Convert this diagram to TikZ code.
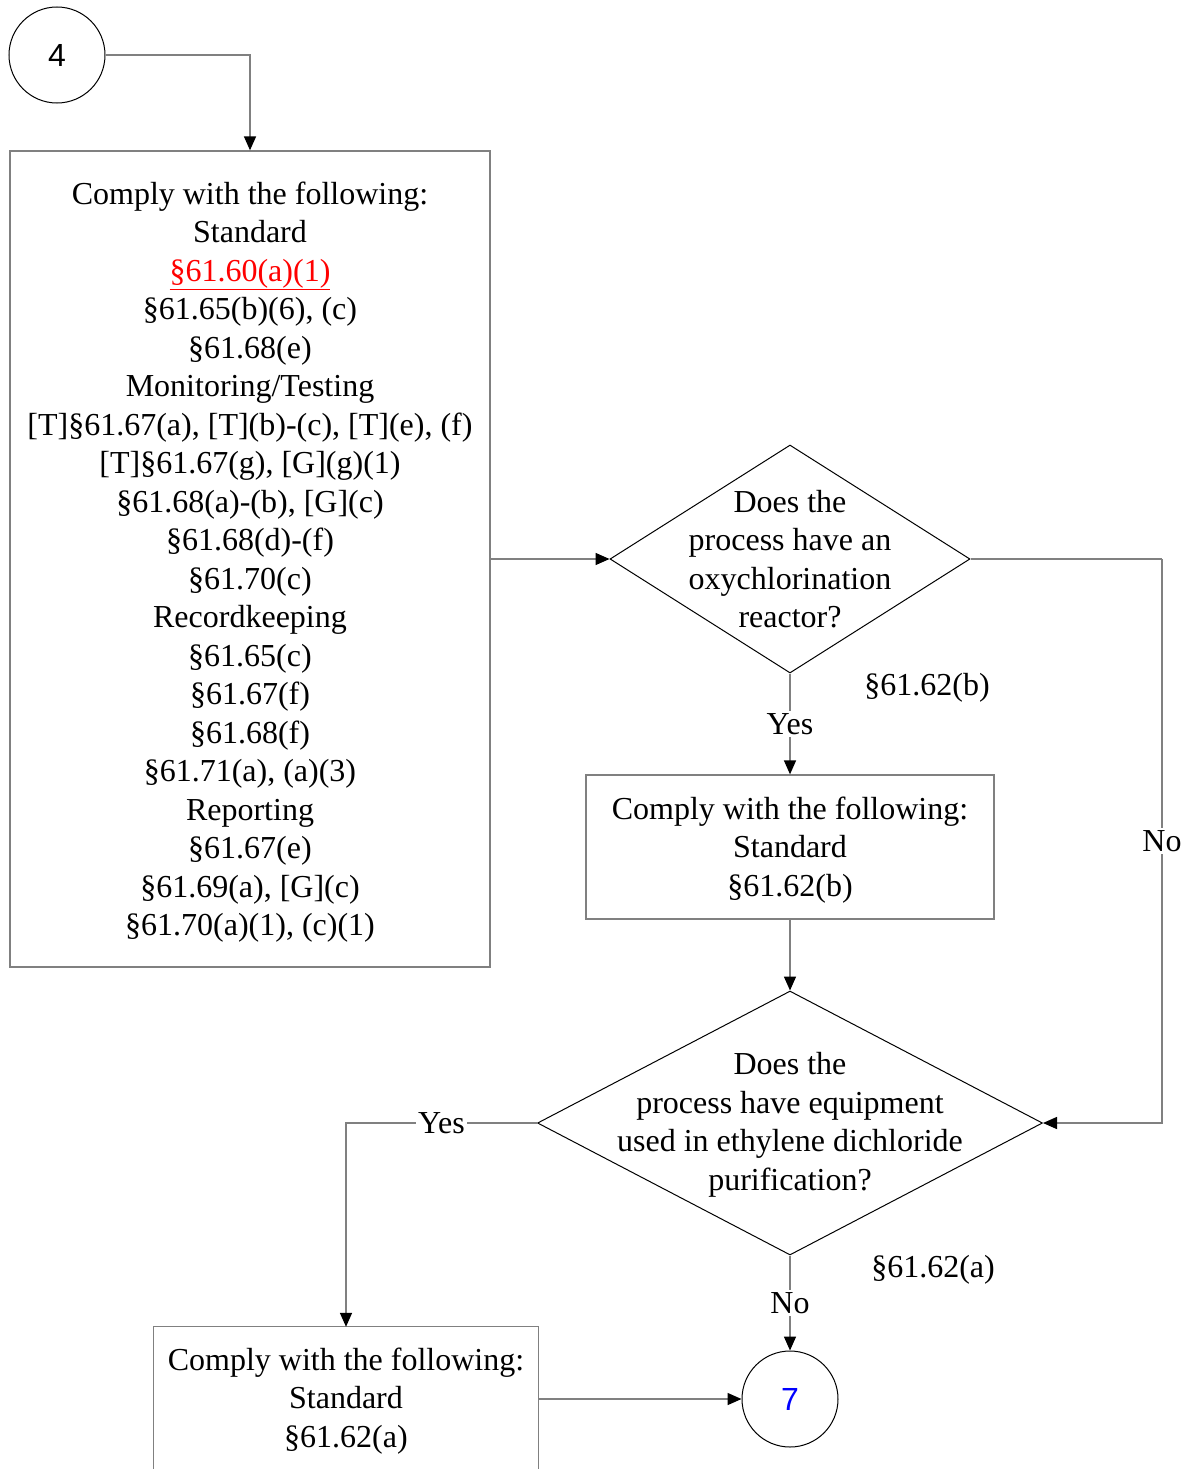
\documentclass[tikz,border=0pt]{standalone}
\usepackage{fontspec}
\setmainfont{Liberation Serif}
\newfontfamily\arialfont{Liberation Sans}
\usetikzlibrary{arrows.meta,shapes.geometric}
\definecolor{lgray}{HTML}{808080}
\definecolor{linkred}{HTML}{FF0000}
\definecolor{numblue}{HTML}{0000FF}
\tikzset{
  every node/.style={font=\fontsize{32}{38.5}\selectfont},
  boxnode/.style={draw=lgray, line width=1.3pt, rectangle, inner sep=0pt},
  diam/.style={draw=black, line width=1pt, diamond, inner sep=0pt},
  conn/.style={circle, draw=black, line width=1pt, minimum size=96pt, inner sep=0pt, font=\arialfont\fontsize{32}{38.5}\selectfont},
  link/.style={draw=lgray, line width=1.5pt, -{Triangle[length=14pt,width=12pt,color=black]}},
  plain/.style={draw=lgray, line width=1.5pt},
  lbl/.style={fill=white, inner sep=2pt},
  txt/.style={align=center, inner sep=0pt}
}
\begin{document}
\begin{tikzpicture}[x=1pt,y=-1pt]
\useasboundingbox (0,0) rectangle (1186,1469);
\fill[white] (0,0) rectangle (1186,1469);
\clip (0,0) rectangle (1186,1469);

% circles
\node[conn] (c4) at (57,55) {4};
\node[conn, text=numblue] (c7) at (790,1399) {7};

% big box
\node[boxnode, minimum width=480pt, minimum height=816pt] (box1) at (250,559) {};
\node[txt] (box1t) at (250,562)
 {Comply with the following:\\Standard\\{\color{linkred}\underline{§61.60(a)(1)}}\\§61.65(b)(6), (c)\\§61.68(e)\\Monitoring/Testing\\{[T]}§61.67(a), [T](b)-(c), [T](e), (f)\\{[T]}§61.67(g), [G](g)(1)\\§61.68(a)-(b), [G](c)\\§61.68(d)-(f)\\§61.70(c)\\Recordkeeping\\§61.65(c)\\§61.67(f)\\§61.68(f)\\§61.71(a), (a)(3)\\Reporting\\§61.67(e)\\§61.69(a), [G](c)\\§61.70(a)(1), (c)(1)};

% diamond 1
\node[diam, minimum width=360pt, minimum height=228pt] (d1) at (790,559) {};
\node[txt] (d1t) at (790,559) {Does the\\process have an\\oxychlorination\\reactor?};
\node[txt] (ref1) at (927,688) {§61.62(b)};

% box 2
\node[boxnode, minimum width=408pt, minimum height=144pt] (box2) at (790,847) {};
\node[txt] (box2t) at (790,850) {Comply with the following:\\Standard\\§61.62(b)};

% diamond 2
\node[diam, minimum width=505pt, minimum height=264pt] (d2) at (790,1123) {};
\node[txt] (d2t) at (790,1125) {Does the\\process have equipment\\used in ethylene dichloride\\purification?};
\node[txt] (ref2) at (933,1270) {§61.62(a)};

% box 3 (bottom cut off)
\node[txt, minimum width=384pt, minimum height=148pt] (box3) at (346,1401)
 {Comply with the following:\\Standard\\§61.62(a)};
\draw[draw=lgray, line width=1.3pt] (box3.north west |- 0,1480) -- (box3.north west) -- (box3.north east) -- (box3.north east |- 0,1480);

% connectors
\draw[link] (c4.east) -| (box1.north);
\draw[link] (box1.east) -- (d1.west);
\draw[link] (d1.south) -- node[lbl] {Yes} (box2.north);
\coordinate (noturn) at (1162,559);
\draw[plain] (d1.east) -- (noturn);
\draw[link] (noturn) |- node[lbl, pos=0.25] {No} (d2.east);
\draw[link] (box2.south) -- (d2.north);
\draw[link] (d2.west) -| node[lbl, pos=0.25] {Yes} (box3.north);
\draw[link] (d2.south) -- node[lbl] {No} (c7.north);
\draw[link] (c7.west -| box3.east) -- (c7.west);
\end{tikzpicture}
\end{document}
